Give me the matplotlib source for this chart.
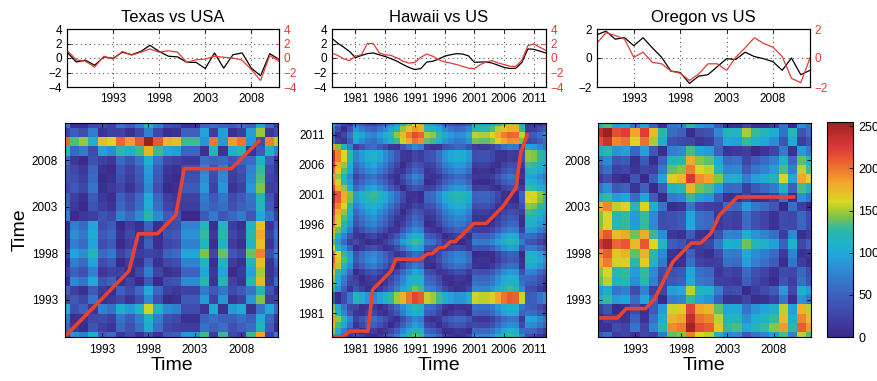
import numpy as np
import matplotlib
matplotlib.use("Agg")
import matplotlib.pyplot as plt
from matplotlib.colors import LinearSegmentedColormap

plt.rcParams.update({
    "font.family": ["Liberation Sans", "DejaVu Sans"],
    "font.size": 8,
    "axes.linewidth": 0.8,
    "xtick.direction": "in",
    "ytick.direction": "in",
    "xtick.major.size": 3,
    "ytick.major.size": 3,
    "xtick.major.width": 0.6,
    "ytick.major.width": 0.6,
})

RED = "#e23b36"
PATH_RED = "#e8432f"

# --- Texas vs USA (state = preto, USA = vermelho) ---
TX_YEARS = np.arange(1988, 2012)
TX_STATE = [0.8, -0.55, -0.3, -1.0, 0.15, -0.05, 0.8, 0.45, 0.9, 1.75, 0.9, 0.25,
            0.15, -0.6, -0.6, -1.45, 0.7, -1.4, 0.45, 0.7, -1.4, -2.45, 0.6, -0.2]
TX_US = [1.05, -0.25, -0.45, -1.25, 0.25, -0.15, 0.9, 0.4, 0.8, 1.25, 0.8, 1.0,
         0.8, -0.6, -0.25, -0.15, 0.25, 0.1, 0.0, -0.3, -1.6, -3.1, 0.35, -0.45]
TX_PATH_X = [1989.0, 1995.9, 1996.9, 1998.95, 2000.95, 2001.85, 2006.95, 2009.9]
TX_PATH_Y = [1989.05, 1996.1, 2000.1, 2000.1, 2002.1, 2007.1, 2007.1, 2010.05]

# --- Hawaii vs US ---
HI_YEARS = np.arange(1977, 2014)
HI_STATE = [2.75, 2.05, 1.5, 0.9, 0.05, 0.35, 0.6, 0.7, 0.45, 0.2, -0.1, -0.45,
            -0.9, -1.3, -1.6, -1.45, -0.55, -0.45, -0.15, 0.25, 0.45, 0.6, 0.55,
            0.3, -0.6, -0.55, -0.55, -0.7, -1.0, -1.3, -1.45, -1.4, -0.6, 1.25,
            1.2, 0.95, 0.7]
HI_US = [0.7, 0.35, -0.1, -0.35, 0.25, 0.45, 2.0, 2.0, 0.7, 0.45, 0.35, 0.0,
         -0.45, -0.7, -0.6, 0.1, 0.55, 0.25, -0.25, -0.55, -0.7, -0.9, -1.15,
         -1.4, -1.45, -0.9, -0.55, -0.35, -0.7, -0.9, -1.15, -1.15, -0.3, 1.7,
         1.95, 1.5, 1.05]
HI_PATH_X = [1977.0, 1978.9, 1980.05, 1983.1, 1983.9, 1987.0, 1987.8, 1992.0, 1993.1,
             1993.9, 1995.05, 1995.9, 1997.0, 1997.8, 2000.9, 2003.0, 2005.8, 2007.3,
             2008.0, 2008.8, 2009.9]
HI_PATH_Y = [1977.0, 1977.0, 1978.0, 1978.0, 1985.0, 1988.1, 1990.1, 1990.1, 1991.0,
             1991.0, 1992.05, 1992.05, 1993.05, 1993.05, 1996.1, 1996.1, 1998.95,
             2001.1, 2002.1, 2008.0, 2011.0]

# --- Oregon vs US ---
OR_YEARS = np.arange(1989, 2013)
OR_STATE = [1.6, 1.85, 1.3, 1.4, 0.85, 1.4, 0.7, 0.05, -0.9, -1.0, -1.75, -1.25,
            -1.15, -0.6, -0.05, -0.1, 0.4, 0.1, -0.05, -0.25, -0.85, 0.0, -1.15, -0.85]
OR_US = [1.0, 1.75, 1.55, 1.3, 0.05, 0.4, -0.3, -0.4, -0.9, -1.05, -1.55, -1.1,
         -0.4, -0.4, -0.85, 0.05, 0.7, 1.4, 1.0, 0.75, 0.1, -1.4, -1.7, 0.0]
OR_PATH_X = [1989.15, 1991.1, 1992.1, 1994.15, 1995.15, 1997.1, 1999.1, 2000.1,
             2001.2, 2002.15, 2004.1, 2010.15]
OR_PATH_Y = [1991.05, 1991.05, 1992.05, 1992.05, 1993.1, 1997.05, 1999.1, 1999.1,
             2000.1, 2002.1, 2004.05, 2004.05]

CBAR_TICKS = [0, 50, 100, 150, 200, 250]

CMAP = LinearSegmentedColormap.from_list("jet_print", [
    (0.00, "#3a2a8a"), (0.10, "#4045a6"), (0.20, "#3d62c0"), (0.30, "#2f86d2"),
    (0.38, "#22a6da"), (0.44, "#1fb3c6"), (0.50, "#2cb8a6"), (0.56, "#80c445"),
    (0.63, "#dcd622"), (0.72, "#f2a42c"), (0.80, "#ec6a32"), (0.88, "#dd3a38"),
    (1.00, "#9c2222"),
])

W, H = 878, 381


def _rect(x0, x1, y0, y1):
    """Pixels -> fração da figura."""
    return [x0 / W, 1 - y1 / H, (x1 - x0) / W, (y1 - y0) / H]


def cost_matrix(us, state):
    """Matriz de custo local |us_i - state_j| escalada para 0..255."""
    d = np.abs(np.asarray(us)[:, None] - np.asarray(state)[None, :])
    return d / d.max() * 255


def _minus(vals):
    return [f"{v}".replace("-", "\u2212") for v in vals]


def top_panel(fig, rect, years, state, us, lim, xlim, xticks, title):
    ax = fig.add_axes(rect)
    ax.plot(years, state, color="black", linewidth=0.9)
    ax.set_xlim(*xlim)
    ax.set_ylim(-lim, lim)
    yt = [-4, -2, 0, 2, 4] if lim == 4 else [-2, 0, 2]
    ax.set_yticks(yt)
    ax.set_yticklabels(_minus(yt), fontsize=8.5)
    ax.set_xticks(xticks)
    ax.tick_params(axis="x", top=True, pad=4, labelsize=8.5)
    ax.grid(True, linestyle=(0, (1, 3)), color="0.35", linewidth=0.8)
    ax.set_title(title, fontsize=12, pad=5)

    ax2 = ax.twinx()
    ax2.plot(years, us, color=RED, linewidth=0.9)
    ax2.set_ylim(-lim, lim)
    ax2.set_yticks(yt)
    ax2.set_yticklabels(_minus(yt), fontsize=8.5)
    ax2.tick_params(axis="y", colors=RED, direction="in")
    ax2.spines["right"].set_color("black")
    return ax


def heat_panel(fig, rect, years, state, us, offset, lim, ticks, px, py, ylabel=False):
    ax = fig.add_axes(rect)
    c = years + offset
    ext = [c[0] - 0.5, c[-1] + 0.5, c[0] - 0.5, c[-1] + 0.5]
    im = ax.imshow(cost_matrix(us, state), cmap=CMAP, vmin=0, vmax=255,
                   origin="lower", extent=ext, aspect="auto", interpolation="nearest")
    ax.plot(px, py, color=PATH_RED, linewidth=2.6)
    ax.set_xlim(*lim)
    ax.set_ylim(*lim)
    ax.set_xticks(ticks)
    ax.set_yticks(ticks)
    ax.tick_params(top=True, right=True, pad=5, labelsize=8.5)
    ax.set_xlabel("Time", fontsize=14, labelpad=1)
    if ylabel:
        ax.set_ylabel("Time", fontsize=14, labelpad=2)
    return im


fig = plt.figure(figsize=(W / 100, H / 100), dpi=100)

top_panel(fig, _rect(67, 279, 29, 87), TX_YEARS, TX_STATE, TX_US, 4, (1988, 2011),
          [1993, 1998, 2003, 2008], "Texas vs USA")
top_panel(fig, _rect(331.7, 545.7, 29, 87), HI_YEARS, HI_STATE, HI_US, 4, (1977, 2013),
          list(range(1981, 2012, 5)), "Hawaii vs US")
top_panel(fig, _rect(596.7, 810, 29, 87), OR_YEARS, OR_STATE, OR_US, 2, (1989, 2012),
          [1993, 1998, 2003, 2008], "Oregon vs US")

# Texas: matriz deslocada 1 ano em relação ao painel de cima (como no original)
heat_panel(fig, _rect(65, 278.3, 123, 337), TX_YEARS, TX_STATE, TX_US, 1, (1989, 2012),
           [1993, 1998, 2003, 2008], TX_PATH_X, TX_PATH_Y, ylabel=True)
heat_panel(fig, _rect(331.7, 545.7, 123, 337), HI_YEARS, HI_STATE, HI_US, 0, (1977, 2013),
           list(range(1981, 2012, 5)), HI_PATH_X, HI_PATH_Y)
im = heat_panel(fig, _rect(597.7, 810.7, 123, 337), OR_YEARS, OR_STATE, OR_US, 0,
                (1989, 2012), [1993, 1998, 2003, 2008], OR_PATH_X, OR_PATH_Y)

cax = fig.add_axes(_rect(827, 853, 122, 337))
cb = fig.colorbar(im, cax=cax, ticks=CBAR_TICKS)
cb.ax.tick_params(direction="in", length=3, pad=4, labelsize=9)
cb.outline.set_linewidth(0.8)

fig.savefig("out.png", dpi=100)
